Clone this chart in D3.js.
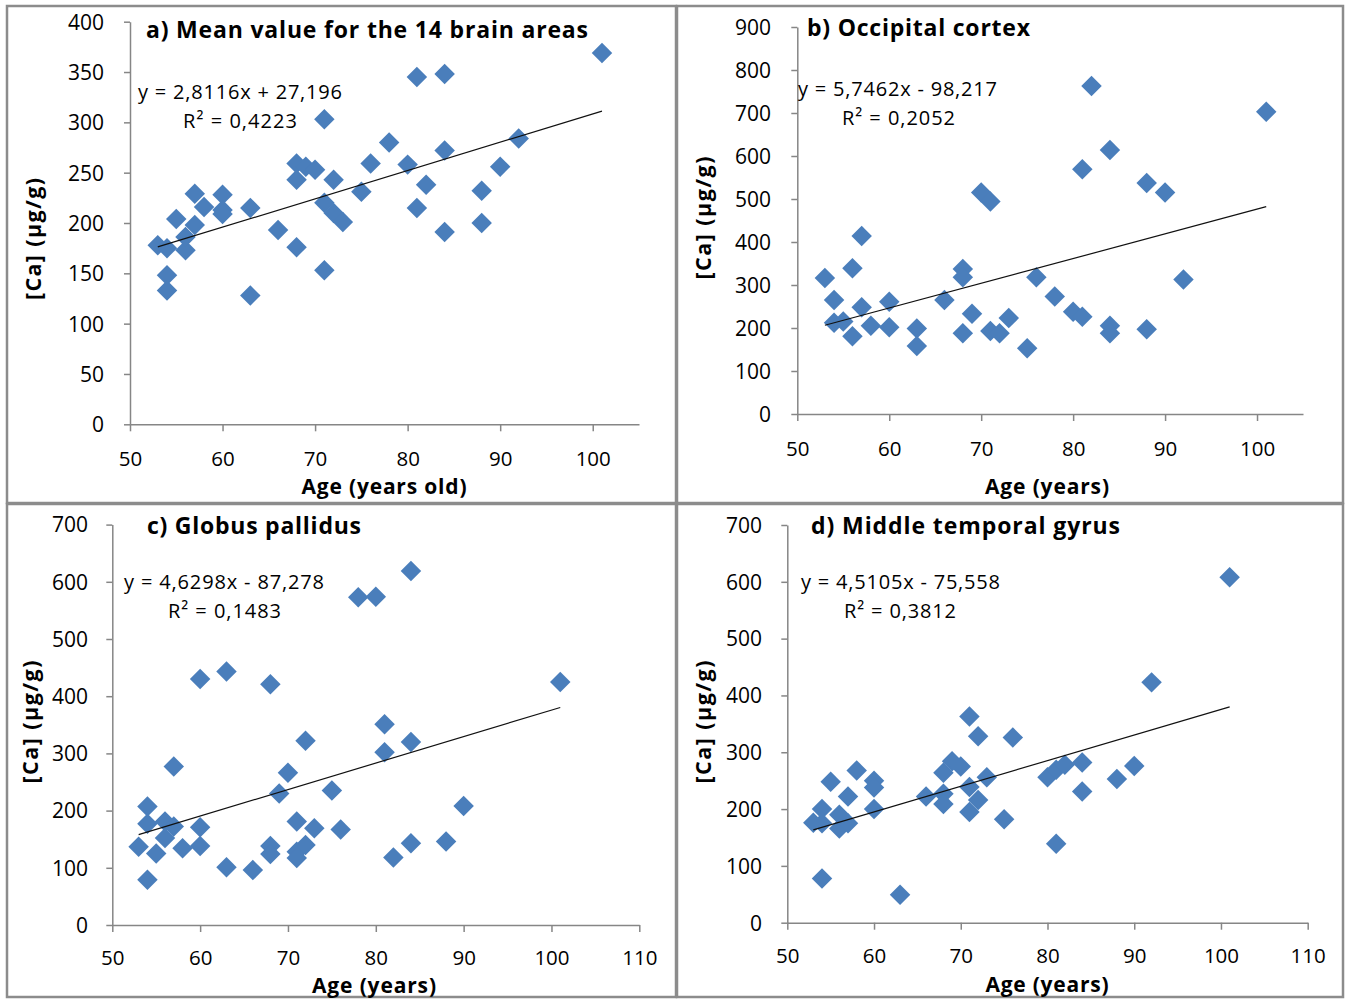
<!DOCTYPE html>
<html><head><meta charset="utf-8">
<script src="https://cdn.jsdelivr.net/npm/d3@7"></script>
<style>body{margin:0;background:#fff} text{font-family:"Open Sans",Lato,sans-serif;fill:#000}</style>
</head><body><svg id="c" width="1346" height="999"></svg>
<script>
// ---- data ----
const ageA=[53,54,55,54,54,56,56,57,57,58,60,60,60,63,63,66,68,68,68,69,70,71,71,71,72,72,73,75,76,78,80,81,84,84,82,81,84,88,88,90,92,101];
const caA =[178,175,204,148,133,173,186,198,229,216,228,213,209,215,128,193,176,259,243,256,253,303,153,220,210,243,201,231,259,280,258,345,348,272,238,215,191,232,200,256,284,369];
const ageB=[53,54,54,55,56,56,57,57,58,60,60,63,63,66,68,68,68,69,70,71,71,72,73,75,76,78,80,81,81,82,84,84,84,88,88,90,92,101];
const caB =[316,265,212,215,181,339,414,248,205,261,202,199,158,265,337,318,188,233,515,494,193,188,223,153,318,273,238,226,569,763,614,205,188,537,197,515,313,703];
const ageC=[53,54,54,54,55,56,56,57,57,58,60,60,60,63,63,66,68,68,68,69,70,71,71,71,72,72,73,75,76,78,80,81,81,82,84,84,84,88,90,101];
const caC =[137,207,177,79,125,181,152,172,277,134,171,138,430,443,101,96,421,138,124,230,266,181,128,117,140,322,169,235,167,573,574,351,302,118,619,320,143,146,208,425];
const ageD=[53,54,54,54,55,56,56,57,57,58,60,60,60,63,66,68,68,68,69,70,71,71,71,72,72,73,75,76,80,81,82,84,84,81,88,90,92,101];
const caD =[176,200,175,78,248,190,166,222,175,268,250,238,200,49,222,264,227,209,284,275,363,239,195,328,216,256,182,326,256,269,278,282,231,139,253,276,423,608];

const titles=["a) Mean value for the 14 brain areas","b) Occipital cortex","c) Globus pallidus","d) Middle temporal gyrus"];
const equations=["y = 2,8116x + 27,196","y = 5,7462x - 98,217","y = 4,6298x - 87,278","y = 4,5105x - 75,558"];
const r2Labels=["R² = 0,4223","R² = 0,2052","R² = 0,1483","R² = 0,3812"];
const slopes=[2.8116,5.7462,4.6298,4.5105];
const intercepts=[27.196,-98.217,-87.278,-75.558];
const xTicksAB=[50,60,70,80,90,100];
const xTicksCD=[50,60,70,80,90,100,110];
const yTicksA=[0,50,100,150,200,250,300,350,400];
const yTicksB=[0,100,200,300,400,500,600,700,800,900];
const yTicksCD=[0,100,200,300,400,500,600,700];
const xTitles=["Age (years old)","Age (years)","Age (years)","Age (years)"];
const yTitle="[Ca] (µg/g)";

// ---- layout ----
const panels=[
 {age:ageA,ca:caA,xd:[50,105],yd:[0,400],xt:xTicksAB,yt:yTicksA,
  frame:[7,6,669,497],px:[130,639],py:[424.3,21.7],
  title:[146,30,442],eq:[138,92,204],r2:[183,121,114],yl:[33,239,122],xl:[384,487,165],xtl:459,ytr:104},
 {age:ageB,ca:caB,xd:[50,105],yd:[0,900],xt:xTicksAB,yt:yTicksB,
  frame:[677,6,666,497],px:[797.3,1303],py:[414,27],
  title:[807,28,223],eq:[798,89,199],r2:[842,118,113],yl:[703,218,123],xl:[1047,487,124],xtl:449,ytr:771},
 {age:ageC,ca:caC,xd:[50,110],yd:[0,700],xt:xTicksCD,yt:yTicksCD,
  frame:[7,504,669,493],px:[112.3,639.3],py:[925,524.6],
  title:[147,526,214],eq:[124,582,200],r2:[168,611,113],yl:[30,722,123],xl:[374,986,124],xtl:958,ytr:88},
 {age:ageD,ca:caD,xd:[50,110],yd:[0,700],xt:xTicksCD,yt:yTicksCD,
  frame:[677,504,666,493],px:[787.3,1307.7],py:[922.7,525],
  title:[811,526,309],eq:[801,582,199],r2:[844,611,112],yl:[703,722,123],xl:[1047,985,123],xtl:956,ytr:762}
];

const svg=d3.select("#c");
const axisCol="#868686";
const diamond=d3.symbol().type(d3.symbolSquare).size(210);

panels.forEach((p,i)=>{
  const g=svg.append("g");
  g.append("rect").attr("x",p.frame[0]).attr("y",p.frame[1]).attr("width",p.frame[2]).attr("height",p.frame[3])
   .attr("fill","#fff").attr("stroke","#8c8c8c").attr("stroke-width",2.5);
  const x=d3.scaleLinear().domain(p.xd).range(p.px);
  const y=d3.scaleLinear().domain(p.yd).range(p.py);

  const xa=g.append("g").attr("transform",`translate(0,${p.py[0]})`)
    .call(d3.axisBottom(x).tickValues(p.xt).tickSize(7).tickSizeOuter(0).tickFormat(d3.format("d")));
  xa.select(".domain").attr("stroke",axisCol).attr("stroke-width",1.5);
  xa.selectAll(".tick line").attr("stroke",axisCol).attr("stroke-width",1.5);
  xa.selectAll(".tick text").attr("y",p.xtl-p.py[0]).attr("dy","0.35em")
    .style("font-size","20.5px").style("font-family","'Open Sans',sans-serif").attr("fill","#000");
  const ya=g.append("g").attr("transform",`translate(${p.px[0]},0)`)
    .call(d3.axisLeft(y).tickValues(p.yt).tickSize(6).tickSizeOuter(0).tickFormat(d3.format("d")));
  ya.select(".domain").attr("stroke",axisCol).attr("stroke-width",1.5);
  ya.selectAll(".tick line").attr("stroke",axisCol).attr("stroke-width",1.5);
  ya.selectAll(".tick text").attr("x",p.ytr-p.px[0]).attr("dy","0.35em")
    .style("font-size","21px").style("font-family","'Open Sans',sans-serif").attr("fill","#000");

  const pts=p.age.map((a,k)=>[a,p.ca[k]]);
  g.append("g").selectAll("path").data(pts).join("path")
   .attr("d",diamond)
   .attr("transform",d=>`translate(${x(d[0])},${y(d[1])}) rotate(45)`)
   .attr("fill","#4a7ebb");

  const xmin=d3.min(p.age), xmax=d3.max(p.age);
  g.append("line")
   .attr("x1",x(xmin)).attr("y1",y(slopes[i]*xmin+intercepts[i]))
   .attr("x2",x(xmax)).attr("y2",y(slopes[i]*xmax+intercepts[i]))
   .attr("stroke","#111").attr("stroke-width",1.2);

  g.append("text").attr("x",p.title[0]).attr("y",p.title[1]).attr("dy","0.35em")
   .attr("textLength",p.title[2]).attr("lengthAdjust","spacing")
   .style("font-size","23px").style("font-weight","bold").text(titles[i]);
  g.append("text").attr("x",p.eq[0]).attr("y",p.eq[1]).attr("dy","0.35em")
   .attr("textLength",p.eq[2]).attr("lengthAdjust","spacing")
   .style("font-size","20px").text(equations[i]);
  g.append("text").attr("x",p.r2[0]).attr("y",p.r2[1]).attr("dy","0.35em")
   .attr("textLength",p.r2[2]).attr("lengthAdjust","spacing")
   .style("font-size","20px").text(r2Labels[i]);
  g.append("text").attr("x",p.xl[0]-p.xl[2]/2).attr("y",p.xl[1]).attr("dy","0.35em")
   .attr("textLength",p.xl[2]).attr("lengthAdjust","spacing")
   .style("font-size","21px").style("font-weight","bold").text(xTitles[i]);
  g.append("text").attr("transform",`translate(${p.yl[0]},${p.yl[1]}) rotate(-90)`).attr("dy","0.35em")
   .attr("x",-p.yl[2]/2).attr("textLength",p.yl[2]).attr("lengthAdjust","spacing")
   .style("font-size","21.5px").style("font-weight","bold").text(yTitle);
});
</script></body></html>
